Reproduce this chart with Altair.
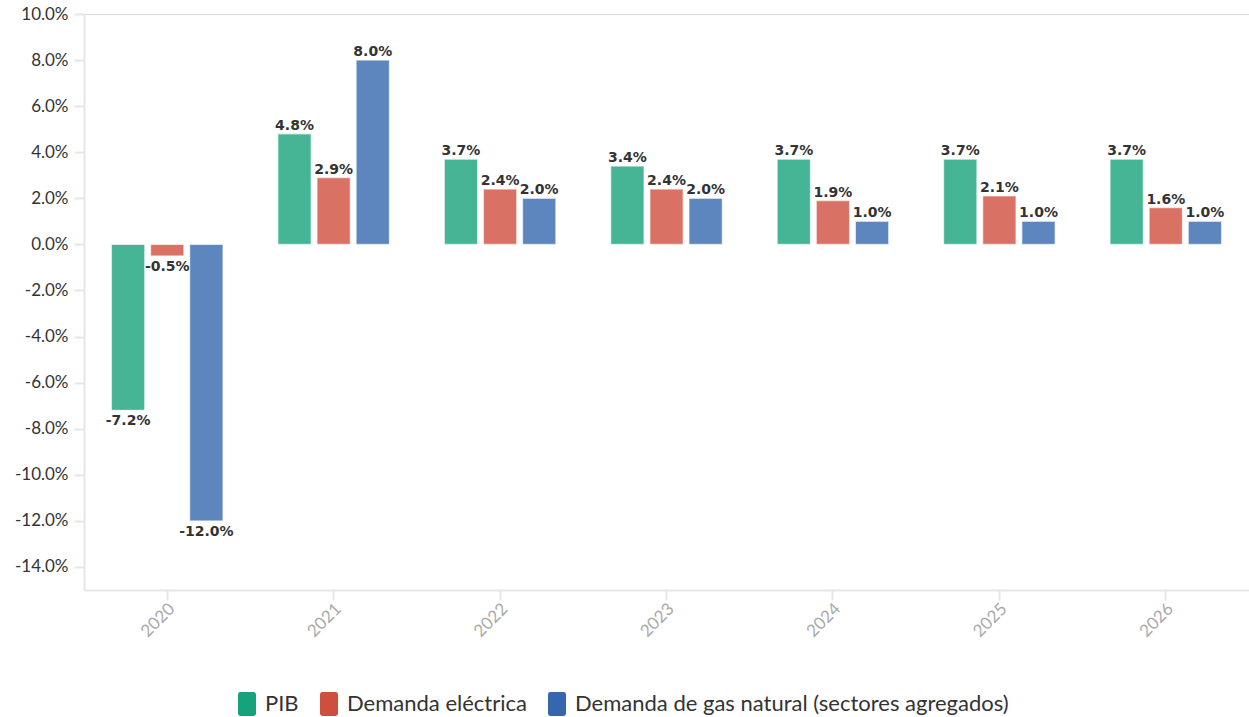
import altair as alt
import pandas as pd

years = ["2020", "2021", "2022", "2023", "2024", "2025", "2026"]
series = ["PIB", "Demanda eléctrica", "Demanda de gas natural (sectores agregados)"]
pib = [-7.2, 4.8, 3.7, 3.4, 3.7, 3.7, 3.7]
demanda_electrica = [-0.5, 2.9, 2.4, 2.4, 1.9, 2.1, 1.6]
demanda_gas = [-12.0, 8.0, 2.0, 2.0, 1.0, 1.0, 1.0]
colors = ["#16a37b", "#cf4f3e", "#3566ae"]

rows = []
for name, vals in zip(series, [pib, demanda_electrica, demanda_gas]):
    for y, v in zip(years, vals):
        rows.append({"year": y, "serie": name, "value": v / 100.0})
df = pd.DataFrame(rows)

# rounded tall rectangle for legend swatches
swatch = ("M -0.75 -0.8 Q -0.75 -1 -0.55 -1 L 0.55 -1 Q 0.75 -1 0.75 -0.8 "
          "L 0.75 0.8 Q 0.75 1 0.55 1 L -0.55 1 Q -0.75 1 -0.75 0.8 Z")

# percentages with a plain hyphen as minus sign
pct_expr = "replace(format(datum.value, '.1%'), '\u2212', '-')"

x_enc = alt.X(
    "year:N",
    title=None,
    scale=alt.Scale(paddingInner=0.33, paddingOuter=0.165),
    axis=alt.Axis(
        labelAngle=-45,
        labelAlign="right",
        labelBaseline="middle",
        labelColor="#aaaaaa",
        labelFontSize=17,
        labelFont="Lato",
        labelPadding=6,
        labelOffset=5,
        domainColor="#e6e6e6",
        domainWidth=2,
        tickColor="#e6e6e6",
        tickWidth=2,
        tickSize=10,
        grid=False,
    ),
)
y_scale = alt.Scale(domain=[-0.15, 0.10], nice=False, zero=True)
y_axis = alt.Axis(
    values=[v / 100.0 for v in range(-14, 11, 2)],
    labelExpr=pct_expr,
    labelFontSize=17,
    labelFont="Lato",
    labelColor="#333333",
    labelPadding=6,
    domainColor="#e6e6e6",
    domainWidth=2,
    tickColor="#e6e6e6",
    tickWidth=2,
    tickSize=10,
    grid=False,
    title=None,
)
color_enc = alt.Color(
    "serie:N",
    scale=alt.Scale(domain=series, range=colors),
    sort=series,
    legend=alt.Legend(
        title=None,
        orient="none",
        direction="horizontal",
        legendX=151,
        legendY=678,
        symbolType=swatch,
        symbolSize=576,
        symbolOpacity=1,
        symbolStrokeWidth=0,
        labelFont="Lato",
        labelFontSize=22,
        labelColor="#333333",
        columnPadding=18,
        labelOffset=6,
        labelLimit=800,
    ),
)

base = alt.Chart(df).transform_calculate(label=pct_expr).encode(
    x=x_enc,
    xOffset=alt.XOffset("serie:N", sort=series, scale=alt.Scale(paddingInner=0.15)),
)

bars = base.mark_bar(fillOpacity=0.8, stroke="white", strokeWidth=1.2, strokeOpacity=0.6).encode(
    y=alt.Y("value:Q", scale=y_scale, axis=y_axis),
    color=color_enc,
)

label_style = dict(font="DejaVu Sans", fontWeight="bold", fontSize=14, color="#333333")

pos_labels = base.transform_filter("datum.value >= 0").mark_text(
    baseline="bottom", dy=-1, **label_style
).encode(
    y=alt.Y("value:Q", scale=y_scale),
    text="label:N",
)
neg_labels = base.transform_filter("datum.value < 0").mark_text(
    baseline="top", dy=4, **label_style
).encode(
    y=alt.Y("value:Q", scale=y_scale),
    text="label:N",
)

chart = alt.layer(bars, pos_labels, neg_labels).properties(
    width=1165,
    height=576,
    autosize=alt.AutoSizeParams(type="none"),
    padding={"left": 84, "top": 14, "right": 0, "bottom": 127},
).configure_view(stroke=None).configure(background="white")

chart.save("out.html", embed_options={"renderer": "svg", "actions": False})
